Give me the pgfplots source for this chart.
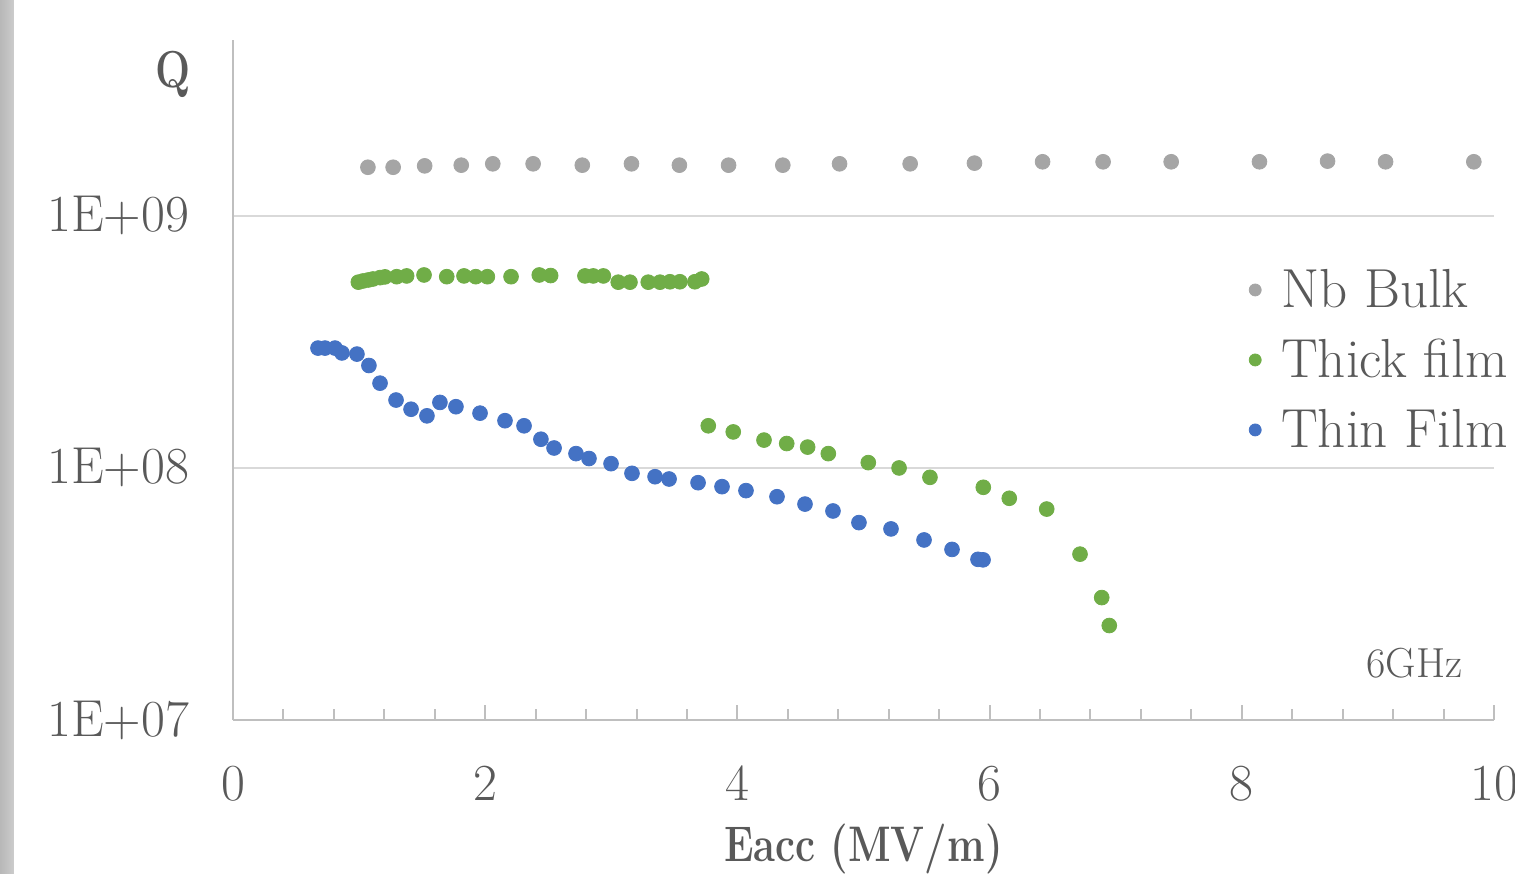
\documentclass[border=0pt]{standalone}
\usepackage{pgfplots}
\pgfplotsset{compat=1.18}
\usepackage{graphicx}
\definecolor{bulk}{HTML}{A5A5A5}
\definecolor{thick}{HTML}{70AD47}
\definecolor{thin}{HTML}{4472C4}
\definecolor{txt}{HTML}{595959}
\definecolor{axl}{HTML}{BFBFBF}
\definecolor{grd}{HTML}{D9D9D9}
\begin{document}
\begin{tikzpicture}
\useasboundingbox (-116.5pt,-76.5pt) rectangle (641pt,360pt);
\fill[left color=black!28, right color=black!20] (-116.5pt,-76.5pt) rectangle (-109.5pt,360pt);
\begin{axis}[
  at={(0,0)}, anchor=south west,
  scale only axis, width=630.5pt, height=340pt,
  xmin=0, xmax=10, ymode=log, ymin=1e7, ymax=4.99e9,
  axis x line*=bottom, axis y line*=left,
  axis line style={axl, line width=1pt, -},
  xtick={0,2,4,6,8,10},
  xticklabels={0,2,4,6,8,10},
  minor x tick num=4,
  tick align=inside,
  x tick style={axl, line width=1pt},
  major tick length=7.5pt, minor tick length=5.5pt,
  ytick={1e7,1e8,1e9},
  yticklabels={1E+07,1E+08,1E+09},
  y tick style={draw=none},
  ymajorgrids, grid style={grd, line width=1pt},
  every tick label/.append style={font=\fontsize{26}{31}\selectfont, text=txt},
  x tick label style={yshift=-19.5pt},
  y tick label style={xshift=-18.4pt},
  xlabel={\scalebox{0.8}[1]{\bfseries Eacc (MV/m)}},
  every axis x label/.style={at={(axis description cs:0.5,0)}, anchor=base, yshift=-71pt, font=\fontsize{25}{30}\selectfont, text=txt},
  ylabel={\scalebox{0.8}[1]{\bfseries Q}},
  every axis y label/.style={at={(axis description cs:0,1)}, anchor=base, xshift=-30pt, yshift=-24pt, font=\fontsize{26}{30}\selectfont, text=txt},
  legend style={draw=none, fill=none, at={(axis description cs:0.8008,0.675)}, anchor=north west,
     font=\fontsize{27.5}{33}\selectfont, text=txt, row sep=10.3pt,
     /tikz/every odd column/.append style={column sep=8pt}},
  legend cell align=left,
  legend image code/.code={\draw[#1,mark size=3pt] plot coordinates {(0.15cm,0cm)};},
]
\addplot[only marks, mark=*, color=bulk, mark size=3.7pt, mark options={draw=none, fill=bulk}] coordinates {
(1.07,1.56e9) (1.27,1.56e9) (1.52,1.58e9) (1.81,1.59e9) (2.06,1.61e9) (2.38,1.61e9)
(2.77,1.59e9) (3.16,1.61e9) (3.54,1.59e9) (3.93,1.59e9) (4.36,1.59e9) (4.81,1.61e9)
(5.37,1.61e9) (5.88,1.62e9) (6.42,1.64e9) (6.90,1.64e9) (7.44,1.64e9) (8.14,1.64e9)
(8.68,1.65e9) (9.14,1.64e9) (9.84,1.64e9)
};
\addlegendentry{Nb Bulk}
\addplot[only marks, mark=*, color=thick, mark size=3.7pt, mark options={draw=none, fill=thick}] coordinates {
(0.994,5.46e8) (1.031,5.52e8) (1.073,5.57e8) (1.110,5.62e8) (1.166,5.69e8) (1.205,5.73e8)
(1.298,5.74e8) (1.377,5.78e8) (1.515,5.83e8) (1.695,5.74e8) (1.832,5.78e8) (1.925,5.74e8)
(2.017,5.74e8) (2.205,5.74e8) (2.429,5.83e8) (2.519,5.80e8) (2.791,5.78e8) (2.857,5.78e8)
(2.937,5.78e8) (3.055,5.46e8) (3.148,5.46e8) (3.293,5.46e8) (3.386,5.46e8) (3.465,5.48e8)
(3.544,5.48e8) (3.663,5.48e8) (3.717,5.62e8)
(3.769,1.47e8) (3.967,1.39e8) (4.211,1.29e8) (4.391,1.25e8) (4.557,1.21e8) (4.721,1.14e8)
(5.038,1.05e8) (5.282,1.00e8) (5.527,9.18e7) (5.950,8.38e7) (6.156,7.58e7) (6.453,6.87e7)
(6.717,4.55e7) (6.889,3.06e7) (6.949,2.37e7)
};
\addlegendentry{Thick film}
\addplot[only marks, mark=*, color=thin, mark size=3.7pt, mark options={draw=none, fill=thin}] coordinates {
(0.674,2.99e8) (0.730,2.99e8) (0.809,2.99e8) (0.864,2.86e8) (0.983,2.83e8) (1.078,2.55e8)
(1.166,2.17e8) (1.293,1.86e8) (1.412,1.71e8) (1.538,1.61e8) (1.641,1.82e8) (1.768,1.75e8)
(1.959,1.65e8) (2.157,1.54e8) (2.308,1.47e8) (2.442,1.30e8) (2.546,1.20e8) (2.720,1.14e8)
(2.823,1.09e8) (2.998,1.04e8) (3.164,9.52e7) (3.347,9.23e7) (3.458,9.04e7) (3.688,8.74e7)
(3.878,8.43e7) (4.068,8.13e7) (4.314,7.69e7) (4.536,7.19e7) (4.758,6.75e7) (4.964,6.07e7)
(5.218,5.73e7) (5.480,5.18e7) (5.702,4.75e7) (5.908,4.34e7) (5.948,4.32e7)
};
\addlegendentry{Thin Film}
\node[anchor=base east, inner sep=0pt, font=\fontsize{21}{25}\selectfont, text=txt] at (rel axis cs:0.9754,0.0632) {6GHz};
\end{axis}
\end{tikzpicture}
\end{document}
